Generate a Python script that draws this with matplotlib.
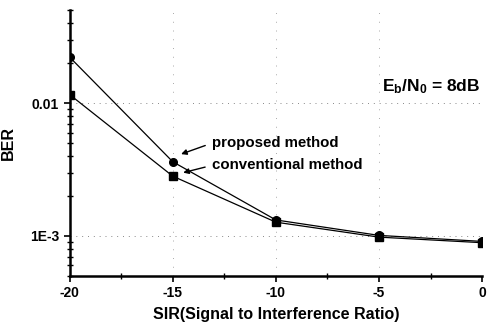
import matplotlib.pyplot as plt
from matplotlib.ticker import FixedLocator, LogLocator, NullFormatter

plt.rcParams['font.family'] = ['Liberation Sans', 'DejaVu Sans']
plt.rcParams['font.weight'] = 'bold'
plt.rcParams['mathtext.fontset'] = 'custom'
plt.rcParams['mathtext.bf'] = 'Liberation Sans:weight=bold'
plt.rcParams['mathtext.rm'] = 'Liberation Sans:weight=bold'
plt.rcParams['mathtext.it'] = 'Liberation Sans:weight=bold'
plt.rcParams['mathtext.default'] = 'bf'

sir = [-20, -15, -10, -5, 0]
ber_proposed = [0.0222, 0.00362, 0.00132, 0.00101, 0.00091]
ber_conventional = [0.0116, 0.00282, 0.00127, 0.00098, 0.00089]
ytick_vals = [1e-3, 1e-2]
ytick_labels = ['1E-3', '0.01']

fig = plt.figure(figsize=(4.87, 3.22), dpi=100)
ax = fig.add_axes([0.143, 0.143, 0.847, 0.825])

ax.plot(sir, ber_proposed, color='black', lw=0.9, marker='o', ms=5.5)
ax.plot(sir, ber_conventional, color='black', lw=0.9, marker='s', ms=5.5)

ax.set_yscale('log')
ax.set_xlim(-20, 0)
ax.set_ylim(5e-4, 5e-2)

ax.set_yticks(ytick_vals)
ax.set_yticklabels(ytick_labels)
ax.yaxis.set_minor_locator(LogLocator(base=10, subs=range(2, 10)))
ax.yaxis.set_minor_formatter(NullFormatter())
ax.set_xticks(sir)
ax.set_xticklabels([str(v) for v in sir])
ax.xaxis.set_minor_locator(FixedLocator([-17.5, -12.5, -7.5, -2.5]))

# sparse dotted grid
for yv in ytick_vals:
    ax.axhline(yv, color='#888888', lw=0.7, ls=(0, (1, 5)), zorder=0)
for xv in [-15, -10, -5]:
    ax.axvline(xv, color='#aaaaaa', lw=0.7, ls=(0, (1, 8)), zorder=0)

for s in ['top', 'right']:
    ax.spines[s].set_visible(False)
for s in ['left', 'bottom']:
    ax.spines[s].set_linewidth(1.8)
ax.tick_params(which='major', direction='out', length=4, width=1.2, labelsize=10)
ax.tick_params(which='minor', direction='inout', length=4, width=1)

ax.set_xlabel('SIR(Signal to Interference Ratio)', fontsize=11.5, fontweight='bold', labelpad=5)
ax.set_ylabel('BER', fontsize=11.5, fontweight='bold', labelpad=10)

arrow = dict(arrowstyle='-|>', color='black', lw=1, mutation_scale=8,
             relpos=(0, 0.5), shrinkA=3, shrinkB=1)
ax.annotate('proposed method', xy=(-14.66, 0.0041), xytext=(-13.1, 0.0050),
            fontsize=10.8, fontweight='bold', va='center', arrowprops=arrow)
ax.annotate('conventional method', xy=(-14.56, 0.00298), xytext=(-13.1, 0.0034),
            fontsize=10.8, fontweight='bold', va='center', arrowprops=arrow)

ax.text(-4.85, 0.0132, r'E$_b$/N$_0$ = 8dB', fontsize=12.5,
        fontweight='bold', va='center')

fig.savefig('out.png', dpi=100)
